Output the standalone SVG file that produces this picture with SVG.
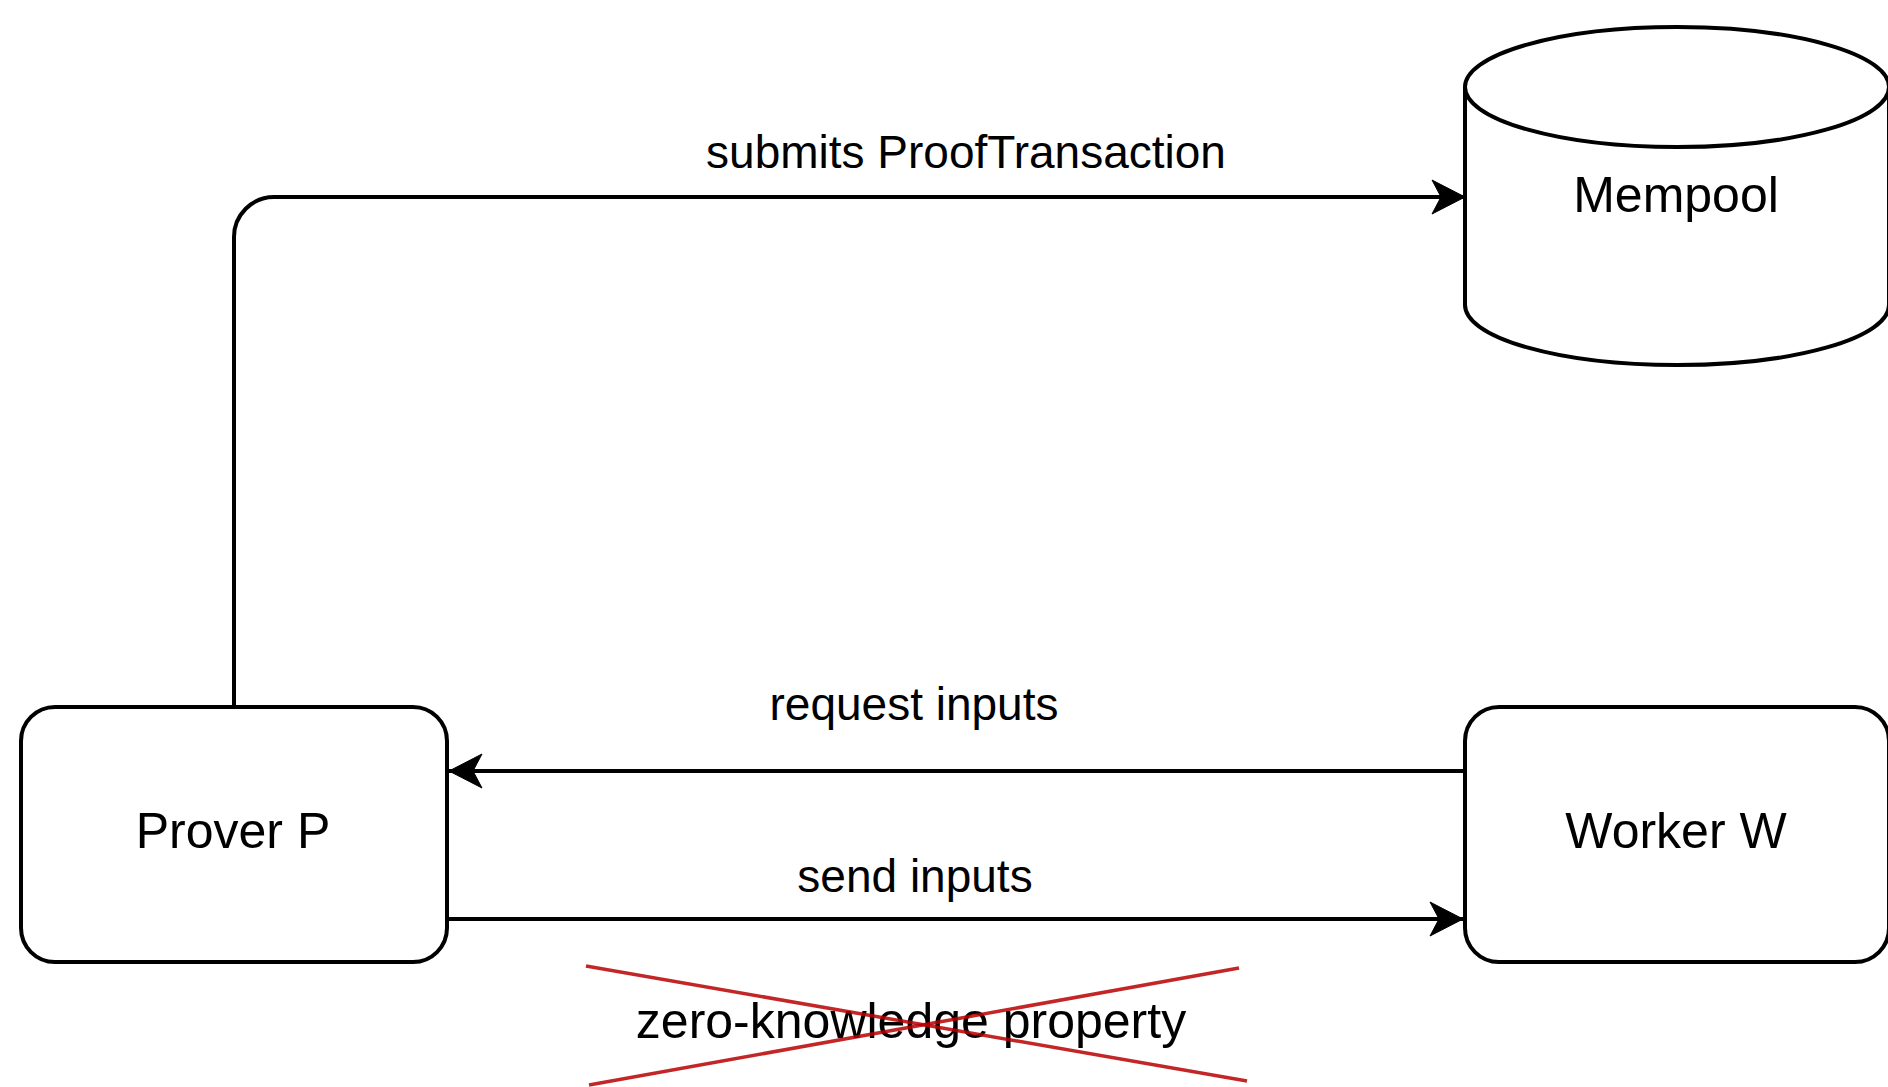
<svg xmlns="http://www.w3.org/2000/svg" width="1888" height="1087" viewBox="0 0 1888 1087">
<style>
.shape{fill:#fff;stroke:#000;stroke-width:4}
.edge{fill:none;stroke:#000;stroke-width:4}
.nl{font-family:"Liberation Sans",Arial,sans-serif;font-size:50px;fill:#000;text-anchor:middle}
.el{font-family:"Liberation Sans",Arial,sans-serif;font-size:46px;fill:#000;text-anchor:middle}
.cross{stroke:#b80000;stroke-opacity:0.85;stroke-width:3.5}
</style>
<defs>
<marker id="arr" markerUnits="userSpaceOnUse" viewBox="-36 -20 40 40" refX="0" refY="0" markerWidth="40" markerHeight="40" orient="auto" overflow="visible">
<path d="M0,0 L-33,-17 L-24,0 L-33,17 Z" fill="#000" stroke="#000" stroke-width="1"/>
</marker>
</defs>
<rect width="1888" height="1087" fill="#fff"/>
<g id="mempool">
<path class="shape" d="M1465,87 A212,60 0 0 1 1889,87 L1889,305 A212,60 0 0 1 1465,305 Z"/>
<path class="shape" style="fill:none" d="M1465,87 A212,60 0 0 0 1889,87"/>
<text class="nl" x="1676" y="212">Mempool</text>
</g>
<g id="prover">
<rect class="shape" x="21" y="707" width="426" height="255" rx="34" ry="34"/>
<text class="nl" x="233" y="848">Prover P</text>
</g>
<g id="worker">
<rect class="shape" x="1465" y="707" width="424" height="255" rx="34" ry="34"/>
<text class="nl" x="1676" y="848">Worker W</text>
</g>
<g id="connectors">
<path class="edge" d="M234,707 L234,237 A40,40 0 0 1 274,197 L1465,197" marker-end="url(#arr)"/>
<text class="el" x="966" y="168">submits ProofTransaction</text>
<path class="edge" d="M1465,771 L449,771" marker-end="url(#arr)"/>
<text class="el" x="914" y="720">request inputs</text>
<path class="edge" d="M447,919 L1463,919" marker-end="url(#arr)"/>
<text class="el" x="915" y="892">send inputs</text>
</g>
<g id="crossed-label">
<text class="nl" x="911" y="1038">zero-knowledge property</text>
<line class="cross" x1="586" y1="966" x2="1247" y2="1081"/>
<line class="cross" x1="589" y1="1085" x2="1239" y2="968"/>
</g>
</svg>
